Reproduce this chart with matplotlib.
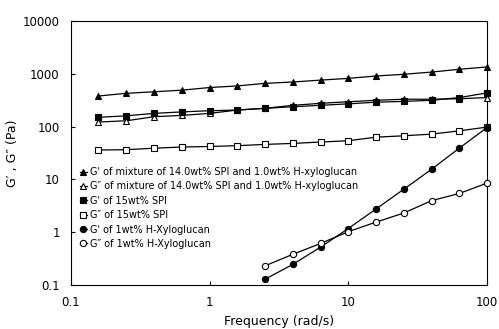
import numpy as np
import matplotlib
matplotlib.use('Agg')
import matplotlib.pyplot as plt

# frequencies (rad/s)
freq = [0.158, 0.251, 0.398, 0.631, 1.0, 1.585, 2.51, 3.98, 6.31,
        10.0, 15.85, 25.1, 39.8, 63.1, 100.0]
freq_xg = freq[6:]

mix_g1 = [380, 427, 457, 490, 550, 590, 660, 700, 760, 820, 910, 980, 1080, 1220, 1350]
mix_g2 = [122, 129, 154, 163, 178, 206, 222, 253, 276, 296, 315, 330, 330, 337, 355]
spi_g1 = [150, 160, 178, 190, 200, 206, 222, 238, 253, 270, 290, 300, 315, 355, 435]
spi_g2 = [36, 36.5, 39, 41, 42, 43.5, 46, 48, 51, 54, 63, 67, 72, 83, 98]
xg_g1 = [0.128, 0.245, 0.52, 1.17, 2.75, 6.5, 15.5, 39, 96]
xg_g2 = [0.23, 0.38, 0.61, 1.02, 1.55, 2.3, 3.95, 5.4, 8.5]

labels = ["G' of mixture of 14.0wt% SPI and 1.0wt% H-xyloglucan",
          "G\u2033 of mixture of 14.0wt% SPI and 1.0wt% H-xyloglucan",
          "G' of 15wt% SPI",
          "G\u2033 of 15wt% SPI",
          "G' of 1wt% H-Xyloglucan",
          "G\u2033 of 1wt% H-Xyloglucan"]

fig = plt.figure(figsize=(4.99, 3.29), dpi=100)
ax = fig.add_axes([0.142, 0.134, 0.834, 0.802])

series = [
    (freq, mix_g1, '^', 'k'),
    (freq, mix_g2, '^', 'w'),
    (freq, spi_g1, 's', 'k'),
    (freq, spi_g2, 's', 'w'),
    (freq_xg, xg_g1, 'o', 'k'),
    (freq_xg, xg_g2, 'o', 'w'),
]
for (x, y, m, fc), lab in zip(series, labels):
    ax.plot(x, y, marker=m, color='k', mfc=fc, mec='k', ms=4.5, mew=0.8,
            lw=0.9, label=lab, clip_on=False, zorder=3)

ax.set_xscale('log')
ax.set_yscale('log')
ax.set_xlim(0.1, 100)
ax.set_ylim(0.1, 10000)
ax.set_xticks([0.1, 1, 10, 100])
ax.set_xticklabels(['0.1', '1', '10', '100'])
ax.set_yticks([0.1, 1, 10, 100, 1000, 10000])
ax.set_yticklabels(['0.1', '1', '10', '100', '1000', '10000'])
ax.minorticks_off()
ax.tick_params(direction='in', length=3, labelsize=8.5, pad=8)
for s in ax.spines.values():
    s.set_linewidth(0.8)

ax.set_xlabel('Frequency (rad/s)', fontsize=9)
ax.set_ylabel('G\u2032 , G\u2033 (Pa)', fontsize=9)
ax.yaxis.set_label_coords(-0.125, 0.5)

ax.legend(loc='upper left', bbox_to_anchor=(0.0, 0.48), frameon=False,
          fontsize=7, handlelength=0.8, handletextpad=0.3, labelspacing=0.45,
          borderaxespad=0.5)

fig.savefig('out.png', dpi=100)
